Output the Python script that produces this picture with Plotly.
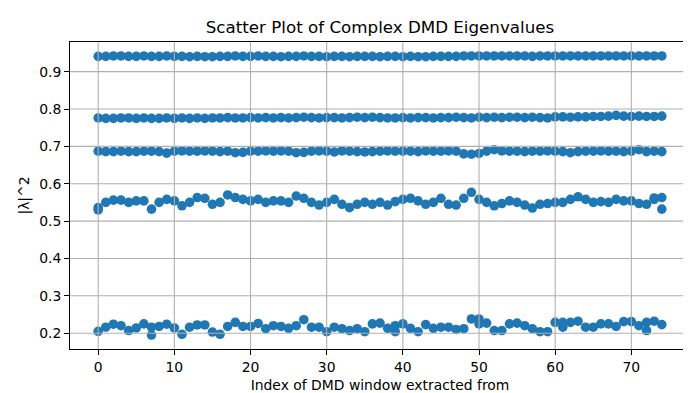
import numpy as np
import plotly.graph_objects as go

# |lambda|^2 of the DMD eigenvalues for each window, one list per eigenvalue band
window_idx = list(range(75))

band_low = [0.205, 0.216, 0.224, 0.220, 0.207, 0.214, 0.225, 0.195, 0.218, 0.224,
            0.214, 0.197, 0.216, 0.222, 0.222, 0.203, 0.197, 0.218, 0.229, 0.218,
            0.218, 0.226, 0.212, 0.220, 0.218, 0.213, 0.220, 0.236, 0.216, 0.216,
            0.204, 0.216, 0.212, 0.207, 0.212, 0.204, 0.225, 0.227, 0.213, 0.220,
            0.225, 0.213, 0.204, 0.223, 0.213, 0.216, 0.216, 0.210, 0.212, 0.238,
            0.238, 0.227, 0.207, 0.207, 0.225, 0.227, 0.220, 0.212, 0.204, 0.204,
            0.229, 0.229, 0.229, 0.232, 0.216, 0.216, 0.225, 0.225, 0.218, 0.231,
            0.231, 0.220, 0.229, 0.232, 0.223]

band_mid = [0.536, 0.550, 0.556, 0.556, 0.550, 0.554, 0.554, 0.532, 0.550, 0.558,
            0.554, 0.541, 0.550, 0.563, 0.561, 0.545, 0.550, 0.570, 0.563, 0.558,
            0.554, 0.558, 0.550, 0.554, 0.554, 0.550, 0.567, 0.561, 0.550, 0.543,
            0.550, 0.558, 0.545, 0.536, 0.545, 0.550, 0.545, 0.550, 0.543, 0.552,
            0.558, 0.561, 0.554, 0.545, 0.550, 0.561, 0.545, 0.543, 0.561, 0.577,
            0.558, 0.550, 0.541, 0.547, 0.554, 0.550, 0.543, 0.535, 0.545, 0.547,
            0.550, 0.550, 0.558, 0.565, 0.558, 0.550, 0.552, 0.550, 0.558, 0.554,
            0.554, 0.547, 0.545, 0.558, 0.563]

band_068 = [0.687, 0.686, 0.686, 0.687, 0.686, 0.686, 0.687, 0.687, 0.686, 0.682,
            0.687, 0.688, 0.687, 0.687, 0.688, 0.687, 0.686, 0.687, 0.683, 0.684,
            0.687, 0.687, 0.688, 0.687, 0.688, 0.687, 0.683, 0.684, 0.687, 0.688,
            0.687, 0.685, 0.688, 0.687, 0.686, 0.685, 0.686, 0.687, 0.688, 0.687,
            0.687, 0.687, 0.686, 0.688, 0.687, 0.687, 0.688, 0.687, 0.680, 0.679,
            0.681, 0.687, 0.691, 0.688, 0.687, 0.687, 0.686, 0.687, 0.687, 0.688,
            0.687, 0.686, 0.683, 0.686, 0.687, 0.687, 0.688, 0.687, 0.687, 0.686,
            0.687, 0.691, 0.686, 0.687, 0.686]

band_078 = [0.776, 0.775, 0.775, 0.776, 0.776, 0.775, 0.776, 0.775, 0.775, 0.776,
            0.775, 0.776, 0.775, 0.776, 0.775, 0.776, 0.776, 0.777, 0.776, 0.776,
            0.777, 0.776, 0.777, 0.776, 0.777, 0.776, 0.777, 0.778, 0.777, 0.776,
            0.777, 0.777, 0.776, 0.777, 0.778, 0.777, 0.778, 0.777, 0.776, 0.776,
            0.777, 0.776, 0.777, 0.777, 0.776, 0.777, 0.777, 0.778, 0.777, 0.776,
            0.778, 0.777, 0.778, 0.777, 0.778, 0.778, 0.777, 0.778, 0.777, 0.776,
            0.779, 0.779, 0.778, 0.779, 0.779, 0.780, 0.780, 0.781, 0.783, 0.781,
            0.780, 0.781, 0.780, 0.780, 0.781]

band_top = [0.941, 0.941, 0.942, 0.942, 0.941, 0.941, 0.942, 0.941, 0.941, 0.942,
            0.941, 0.941, 0.940, 0.941, 0.940, 0.940, 0.941, 0.941, 0.942, 0.941,
            0.941, 0.942, 0.941, 0.941, 0.940, 0.941, 0.941, 0.942, 0.941, 0.941,
            0.940, 0.941, 0.941, 0.940, 0.941, 0.941, 0.941, 0.940, 0.941, 0.941,
            0.940, 0.941, 0.940, 0.940, 0.941, 0.941, 0.941, 0.941, 0.942, 0.942,
            0.942, 0.942, 0.942, 0.942, 0.942, 0.942, 0.942, 0.941, 0.942, 0.942,
            0.942, 0.942, 0.942, 0.942, 0.942, 0.942, 0.942, 0.942, 0.942, 0.942,
            0.942, 0.942, 0.942, 0.942, 0.942]

# points that sit apart from their band's pair
extra_idx = [7, 39, 50, 61, 72, 0, 74, 73]
extra_val = [0.216, 0.204, 0.225, 0.216, 0.207, 0.530, 0.532, 0.562]

x_ticks = [0, 10, 20, 30, 40, 50, 60, 70]
y_ticks = [0.2, 0.3, 0.4, 0.5, 0.6, 0.7, 0.8, 0.9]

bands = [band_top, band_078, band_068, band_mid, band_low]
xs = []
ys = []
for b in bands:
    xs += window_idx
    ys += b
xs += extra_idx
ys += extra_val

fig = go.Figure()
fig.add_trace(go.Scatter(
    x=xs, y=ys, mode='markers',
    marker=dict(size=9.6, color='#1f77b4', line=dict(width=0)),
    showlegend=False
))

# matplotlib draws the grid over the scatter collection
grid = dict(color='#b0b0b0', width=1.1)
for t in x_ticks:
    fig.add_shape(type='line', xref='x', yref='paper', x0=t, x1=t, y0=0, y1=1,
                  line=grid, layer='above')
for t in y_ticks:
    fig.add_shape(type='line', xref='paper', yref='y', x0=0, x1=1, y0=t, y1=t,
                  line=grid, layer='above')

ymin, ymax = min(ys), max(ys)
ypad = (ymax - ymin) * 0.05
xpad = (max(xs) - min(xs)) * 0.05

axis_common = dict(
    showline=True, mirror=True, linecolor='black', linewidth=1,
    ticks='outside', ticklen=5, tickcolor='black', tickwidth=1,
    showgrid=False, zeroline=False, layer='above traces',
    tickfont=dict(size=13.9, color='black'),
)

fig.update_layout(
    width=691, height=393,
    margin=dict(l=62, r=9, t=34, b=52),
    paper_bgcolor='white', plot_bgcolor='white',
    font=dict(family='DejaVu Sans', color='black'),
    title=dict(text='Scatter Plot of Complex DMD Eigenvalues',
               x=0.5, xref='paper', xanchor='center',
               y=1 - 19 / 393, yref='container', yanchor='middle',
               font=dict(size=16.7, color='black')),
    xaxis=dict(range=[min(xs) - xpad, max(xs) + xpad],
               tickvals=x_ticks,
               title=dict(text='Index of DMD window extracted from',
                          font=dict(size=13.9), standoff=6),
               **axis_common),
    yaxis=dict(range=[ymin - ypad, ymax + ypad],
               tickvals=y_ticks,
               tickformat='.1f',
               title=dict(text='|λ|^2', font=dict(size=13.9), standoff=6),
               **axis_common),
)

fig.write_html("out.html")
